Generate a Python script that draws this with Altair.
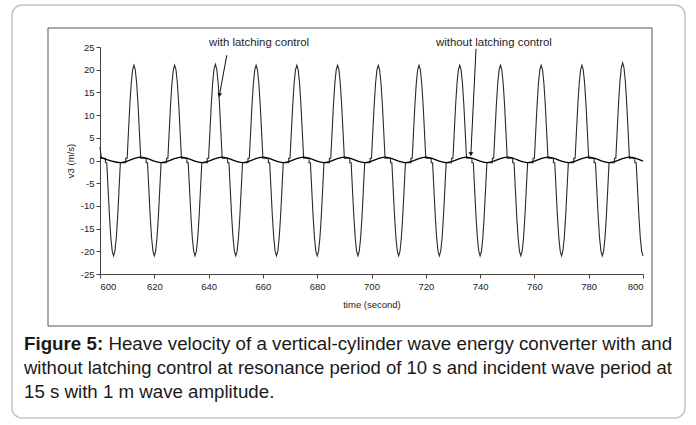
import altair as alt
import pandas as pd

# ---------------- values ----------------
x_ticks = [600, 620, 640, 660, 680, 700, 720, 740, 760, 780, 800]
y_ticks = [-25, -20, -15, -10, -5, 0, 5, 10, 15, 20, 25]

# with latching control: centre time (s) of each released half-cycle and its signed peak (m/s)
pulse_centres = [605, 612.5, 620, 627.5, 635, 642.5, 650, 657.5, 665, 672.5, 680, 687.5, 695,
                 702.5, 710, 717.5, 725, 732.5, 740, 747.5, 755, 762.5, 770, 777.5, 785, 792.5, 800]
pulse_peaks = [-21, 21, -21, 21, -21, 21.2, -21, 21, -21, 21, -21, 21, -21,
               21, -21, 21, -21, 21, -21, 21, -21, 21, -21, 21, -21, 21.5, -21]
# shape of one released half-cycle: time after release (s) and fraction of the peak
pulse_offsets = [0.5, 1.0, 1.5, 2.0, 2.5, 3.0, 3.5, 4.0, 4.5]
pulse_fractions = [0.31, 0.59, 0.81, 0.95, 1.0, 0.95, 0.81, 0.59, 0.31]
pulse_length = 5.0
hold_level = 0.5      # small velocity while latched
step_after = 2.0      # time after a half-cycle ends when the held value steps
start_t = [600, 600.5, 602]
start_v = [3.0, 0.5, 0.5]

# without latching control: turning points of the small oscillation
nolatch_t = [600, 607.5, 615, 622.5, 630, 637.5, 645, 652.5, 660, 667.5, 675, 682.5, 690, 697.5,
             705, 712.5, 720, 727.5, 735, 742.5, 750, 757.5, 765, 772.5, 780, 787.5, 795, 800]
nolatch_v = [0.75, -0.45, 0.75, -0.45, 0.75, -0.45, 0.75, -0.45, 0.75, -0.45, 0.75, -0.45, 0.75, -0.45,
             0.75, -0.45, 0.75, -0.45, 0.75, -0.45, 0.75, -0.45, 0.75, -0.45, 0.75, -0.45, 0.75, -0.15]

# annotation arrows (tail -> head, data units)
arrow_t1 = [646.7, 738.5]
arrow_v1 = [23.2, 24.6]
arrow_t2 = [644.0, 736.6]
arrow_v2 = [14.4, 1.4]
arrow_angle = [9.5, 2.7]
label_t = [658.6, 745.1]
label_v = [25.9, 25.9]
label_text = ["with latching control", "without latching control"]

caption_bold = "Figure 5:"
caption_lines = [
    "Heave velocity of a vertical-cylinder wave energy converter with and",
    "without latching control at resonance period of 10 s and incident wave period at",
    "15 s with 1 m wave amplitude.",
]

# ---------------- build tables ----------------
T_END = 800
pts = [(t, v) for t, v in zip(start_t, start_v)]
pts.append((start_t[-1], -hold_level))
for c, p in zip(pulse_centres, pulse_peaks):
    s = 1 if p > 0 else -1
    t0 = c - pulse_length / 2
    pts.append((t0, s * hold_level))
    for off, fr in zip(pulse_offsets, pulse_fractions):
        if t0 + off <= T_END:
            pts.append((t0 + off, p * fr))
    t1 = t0 + pulse_length
    if t1 <= T_END:
        pts.append((t1, s * hold_level))
        pts.append((t1 + step_after, s * hold_level))
        pts.append((t1 + step_after, -s * hold_level))
latch = pd.DataFrame({"t": [a for a, _ in pts], "v": [b for _, b in pts],
                      "i": list(range(len(pts)))})
nolatch = pd.DataFrame({"t": nolatch_t, "v": nolatch_v})
arrows = pd.DataFrame({"t1": arrow_t1, "v1": arrow_v1, "t2": arrow_t2, "v2": arrow_v2,
                       "angle": arrow_angle})
labels = pd.DataFrame({"t": label_t, "v": label_v, "text": label_text})
one = pd.DataFrame({"a": [0]})

FONT = "Liberation Sans"
xs = alt.Scale(domain=[600, 800], nice=False, zero=False)
ys = alt.Scale(domain=[-25, 25], nice=False)

x_axis = alt.Axis(values=x_ticks, tickCount=len(x_ticks), title="time (second)", grid=False,
                  tickSize=4, labelPadding=3, titlePadding=9, labelFontSize=9.5, titleFontSize=9.5,
                  titleFontWeight="normal", labelColor="#222", titleColor="#222",
                  domainColor="#444", tickColor="#444", labelFont=FONT, titleFont=FONT,
                  labelOverlap=False, labelExpr="toString(datum.value)")
y_axis = alt.Axis(values=y_ticks, tickCount=len(y_ticks), title="v3 (m/s)", grid=False,
                  tickSize=4, labelPadding=2, titlePadding=5, labelFontSize=9.5, titleFontSize=9.5,
                  titleFontWeight="normal", labelColor="#222", titleColor="#222",
                  domainColor="#444", tickColor="#444", labelFont=FONT, titleFont=FONT,
                  labelOverlap=False, labelExpr="toString(datum.value)")

outer_box = alt.Chart(one).mark_rect(fillOpacity=0, stroke="#c4c4c4", strokeWidth=1.5,
                                     cornerRadius=10).encode(
    x=alt.value(-88), x2=alt.value(585), y=alt.value(-42), y2=alt.value(371))
inner_box = alt.Chart(one).mark_rect(fillOpacity=0, stroke="#555", strokeWidth=1).encode(
    x=alt.value(-52), x2=alt.value(552), y=alt.value(-19), y2=alt.value(279))

latch_line = alt.Chart(latch).mark_line(color="#2a2a2a", strokeWidth=1.1).encode(
    x=alt.X("t:Q", scale=xs, axis=x_axis),
    y=alt.Y("v:Q", scale=ys, axis=y_axis),
    order=alt.Order("i:Q"))
nolatch_line = alt.Chart(nolatch).mark_line(color="#000", strokeWidth=1.3,
                                            interpolate="monotone").encode(
    x=alt.X("t:Q", scale=xs), y=alt.Y("v:Q", scale=ys))

arrow_lines = alt.Chart(arrows).mark_rule(color="#111", strokeWidth=1).encode(
    x=alt.X("t1:Q", scale=xs), y=alt.Y("v1:Q", scale=ys), x2="t2:Q", y2="v2:Q")
arrow_heads = alt.Chart(arrows).mark_point(shape="triangle-down", filled=True, color="#111",
                                           size=22, opacity=1).encode(
    x=alt.X("t2:Q", scale=xs), y=alt.Y("v2:Q", scale=ys), angle=alt.Angle("angle:Q", scale=None))
label_marks = alt.Chart(labels).mark_text(font=FONT, fontSize=11.4, color="#222",
                                          baseline="middle", align="center").encode(
    x=alt.X("t:Q", scale=xs), y=alt.Y("v:Q", scale=ys), text="text:N")

size1, size2, size3 = 18.75, 18.5, 18.7
bold_w = (4.223 + 0.278) * size1
cap_bold = alt.Chart(one).mark_text(font=FONT, fontSize=size1, fontWeight="bold",
                                    align="left", baseline="middle", color="#1a1a1a",
                                    text=caption_bold).encode(
    x=alt.value(-76), y=alt.value(297))
cap1 = alt.Chart(one).mark_text(font=FONT, fontSize=size1, align="left", baseline="middle",
                                color="#1a1a1a", text=caption_lines[0]).encode(
    x=alt.value(-76 + bold_w), y=alt.value(297))
cap2 = alt.Chart(one).mark_text(font=FONT, fontSize=size2, align="left", baseline="middle",
                                color="#1a1a1a", text=caption_lines[1]).encode(
    x=alt.value(-76), y=alt.value(321))
cap3 = alt.Chart(one).mark_text(font=FONT, fontSize=size3, align="left", baseline="middle",
                                color="#1a1a1a", text=caption_lines[2]).encode(
    x=alt.value(-76), y=alt.value(345))

chart = alt.layer(
    outer_box, inner_box, latch_line, nolatch_line, arrow_lines, arrow_heads, label_marks,
    cap_bold, cap1, cap2, cap3
).properties(
    width=543, height=227,
    autosize=alt.AutoSizeParams(type="none"),
    padding={"left": 100, "top": 47, "right": 53, "bottom": 151},
    background="white",
).configure_view(strokeWidth=0)

chart.save("out.html", embed_options={"renderer": "svg", "actions": False})
